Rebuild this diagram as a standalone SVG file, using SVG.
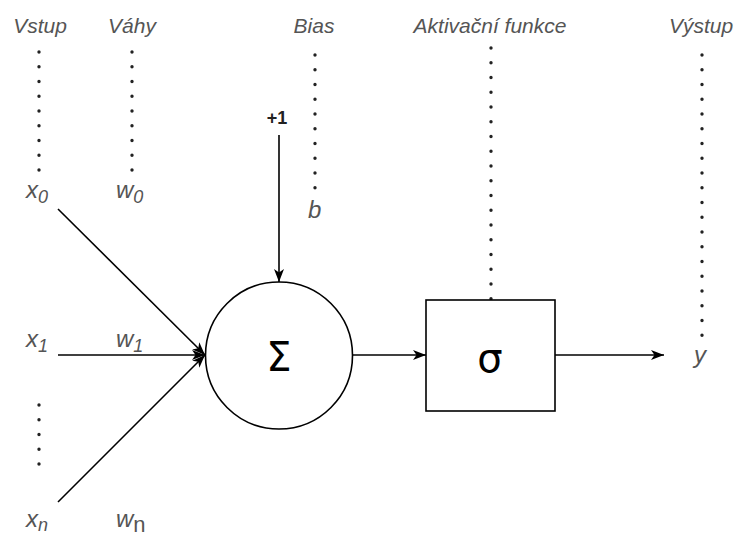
<svg xmlns="http://www.w3.org/2000/svg" width="738" height="538" viewBox="0 0 738 538">
<style>
.hdr{font-family:"Liberation Sans",Arial,sans-serif;font-style:italic;font-size:21px;fill:#555;text-anchor:middle}
.var{font-family:"Liberation Sans",Arial,sans-serif;font-style:italic;font-size:24px;fill:#555}
.sub{font-size:18px}
.dots{stroke:#222;stroke-width:3.4;stroke-linecap:round;stroke-dasharray:0 14.75;fill:none}
.edge{stroke:#000;stroke-width:1.6;fill:none;marker-end:url(#arr)}
.shape{stroke:#000;stroke-width:1.6;fill:#fff}
.sym{font-family:"DejaVu Sans","Liberation Sans",sans-serif;font-size:40px;fill:#000;text-anchor:middle}
</style>
<defs>
<marker id="arr" markerUnits="userSpaceOnUse" markerWidth="14" markerHeight="11" refX="13" refY="5.5" orient="auto">
<path d="M0,0.5 L13,5.5 L0,10.5 L3.5,5.5 Z" fill="#000"/>
</marker>
</defs>
<rect width="738" height="538" fill="#fff"/>
<g id="headers">
<text class="hdr" x="40" y="33">Vstup</text>
<text class="hdr" x="132" y="33">Váhy</text>
<text class="hdr" x="314" y="33">Bias</text>
<text class="hdr" x="490" y="33">Aktivační funkce</text>
<text class="hdr" x="701" y="33">Výstup</text>
</g>
<g id="guides">
<line class="dots" x1="39" y1="52" x2="39" y2="171"/>
<line class="dots" x1="132" y1="52" x2="132" y2="171"/>
<line class="dots" x1="315" y1="55" x2="315" y2="189"/>
<line class="dots" x1="491" y1="48" x2="491" y2="299"/>
<line class="dots" x1="702" y1="55" x2="702" y2="337"/>
<line class="dots" x1="39" y1="405" x2="39" y2="465"/>
</g>
<g id="inputs">
<text class="var" x="26" y="198">x<tspan class="sub" dy="5">0</tspan></text>
<text class="var" x="26" y="347">x<tspan class="sub" dy="5">1</tspan></text>
<text class="var" x="26" y="527">x<tspan class="sub" dy="4">n</tspan></text>
</g>
<g id="weights">
<text class="var" x="116" y="198">w<tspan class="sub" dy="5">0</tspan></text>
<text class="var" x="116" y="347">w<tspan class="sub" dy="5">1</tspan></text>
<text class="var" x="116" y="527">w<tspan font-style="normal" font-size="22" dy="5">n</tspan></text>
</g>
<g id="bias">
<text class="var" x="308" y="218" font-size="22">b</text>
<text x="277" y="124" font-family="Liberation Sans,Arial,sans-serif" font-weight="bold" font-size="18" fill="#222" text-anchor="middle">+1</text>
</g>
<g id="connectors">
<line class="edge" x1="58" y1="209" x2="205" y2="355"/>
<line class="edge" x1="58" y1="355" x2="205" y2="355"/>
<line class="edge" x1="58" y1="502" x2="205" y2="355"/>
<line class="edge" x1="279" y1="135" x2="279" y2="282"/>
<line class="edge" x1="353" y1="355" x2="426" y2="355"/>
<line class="edge" x1="555" y1="355" x2="664" y2="355"/>
</g>
<g id="sum">
<circle class="shape" cx="279" cy="355.5" r="73.5"/>
<text class="sym" x="279" y="371">Σ</text>
</g>
<g id="activation">
<rect class="shape" x="426" y="300" width="129" height="111"/>
<text class="sym" x="490" y="372" font-size="44">σ</text>
</g>
<g id="output">
<text class="var" x="694" y="363">y</text>
</g>
</svg>
